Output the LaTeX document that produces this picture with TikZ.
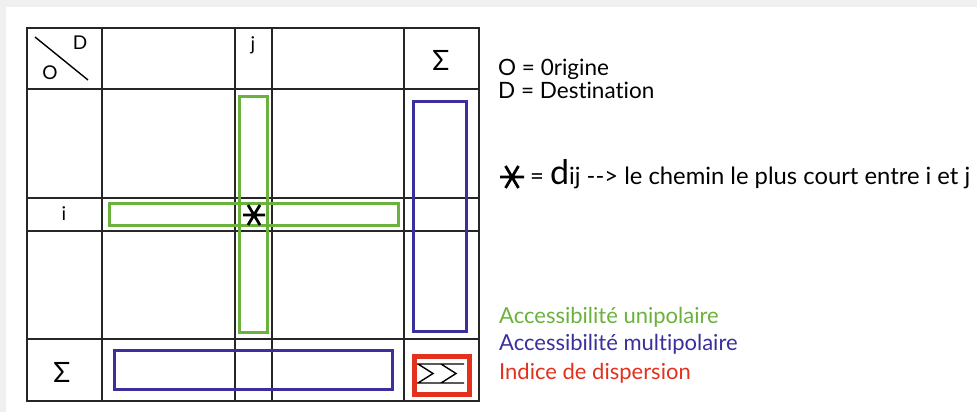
\documentclass[tikz,border=0pt]{standalone}
\usepackage{fontspec}
\usetikzlibrary{calc}
\setmainfont{Lato}[Ligatures={NoCommon}]
\definecolor{ugreen}{HTML}{6AB23C}
\definecolor{mblue}{HTML}{3B2F9C}
\definecolor{dred}{HTML}{E2311D}
\begin{document}
\begin{tikzpicture}[x=1pt,y=-1pt,
  gridline/.style={line width=1.6pt,black!85},
  greenbox/.style={draw=ugreen,line width=3pt},
  bluebox/.style={draw=mblue,line width=3pt},
  redbox/.style={draw=dred,line width=5pt},
  lbl/.style={inner sep=0pt,font=\fontsize{19}{21}\selectfont},
  sig/.style={inner sep=0pt,font=\fontsize{28}{30}\selectfont},
  legend/.style={inner sep=0pt,anchor=base west,font=\fontsize{22.5}{24}\selectfont},
  clegend/.style={inner sep=0pt,anchor=base west,font=\fontsize{22}{24}\selectfont},
  starline/.style={line width=2.8pt,black}]
\useasboundingbox (0,0) rectangle (977,412);
\fill[gray!12] (0,0) rectangle (977,412);
\fill[white] (6,7) rectangle (977,412);
% grid
\draw[gridline] (27,28) rectangle (479,401);
\foreach \x in {102,235,272,404} \draw[gridline] (\x,28) -- (\x,401);
\foreach \y in {89,198,231,339} \draw[gridline] (27,\y) -- (479,\y);
% corner
\draw[line width=1.4pt] (35,37) -- (88,80);
\node[lbl] (D) at (80,43) {D};
\node[lbl] (O) at (50,73) {O};
% labels
\node[lbl] (j) at (253,45) {j};
\node[lbl] (i) at (64,214) {i};
\node[sig] (sigtop) at (441,60) {Σ};
\node[sig] (sigleft) at (62,372) {Σ};
% coloured boxes
\draw[greenbox] (239.5,96) rectangle (267,332);
\draw[greenbox] (109.5,203.5) rectangle (398,225);
\draw[bluebox] (413.5,101.5) rectangle (466,331);
\draw[bluebox] (114,350) rectangle (392,389);
\draw[redbox] (414.5,356) rectangle (469.5,394.5);
% double sigma
\draw[line width=1.4pt] (417,364) -- (464,364) (417,383) -- (464,383)
  (418,364) -- (433,373.5) -- (418,383)
  (441,364) -- (456,373.5) -- (441,383);
% star in grid
\coordinate (s1) at (254,215);
\draw[starline] ($(s1)+(-11,0)$) -- ($(s1)+(11,0)$)
  ($(s1)+(-6,-10)$) -- ($(s1)+(6,10)$)
  ($(s1)+(6,-10)$) -- ($(s1)+(-6,10)$);
% legend
\node[legend] (l1) at (498,76) {O = 0rigine};
\node[legend] (l2) at (498,99) {D = Destination};
\coordinate (s2) at (512,177);
\draw[starline] ($(s2)+(-12,0)$) -- ($(s2)+(12,0)$)
  ($(s2)+(-6.5,-11)$) -- ($(s2)+(6.5,11)$)
  ($(s2)+(6.5,-11)$) -- ($(s2)+(-6.5,11)$);
\node[legend,font=\fontsize{23.8}{26}\selectfont] (l3) at (530,184) {= {\fontsize{34}{36}\selectfont d}ij -{}-> le chemin le plus court entre i et j};
\node[clegend,text=ugreen] (l4) at (499,323) {Accessibilité unipolaire};
\node[clegend,text=mblue] (l5) at (499,350) {Accessibilité multipolaire};
\node[clegend,text=dred] (l6) at (499,379) {Indice de dispersion};
\end{tikzpicture}
\end{document}
